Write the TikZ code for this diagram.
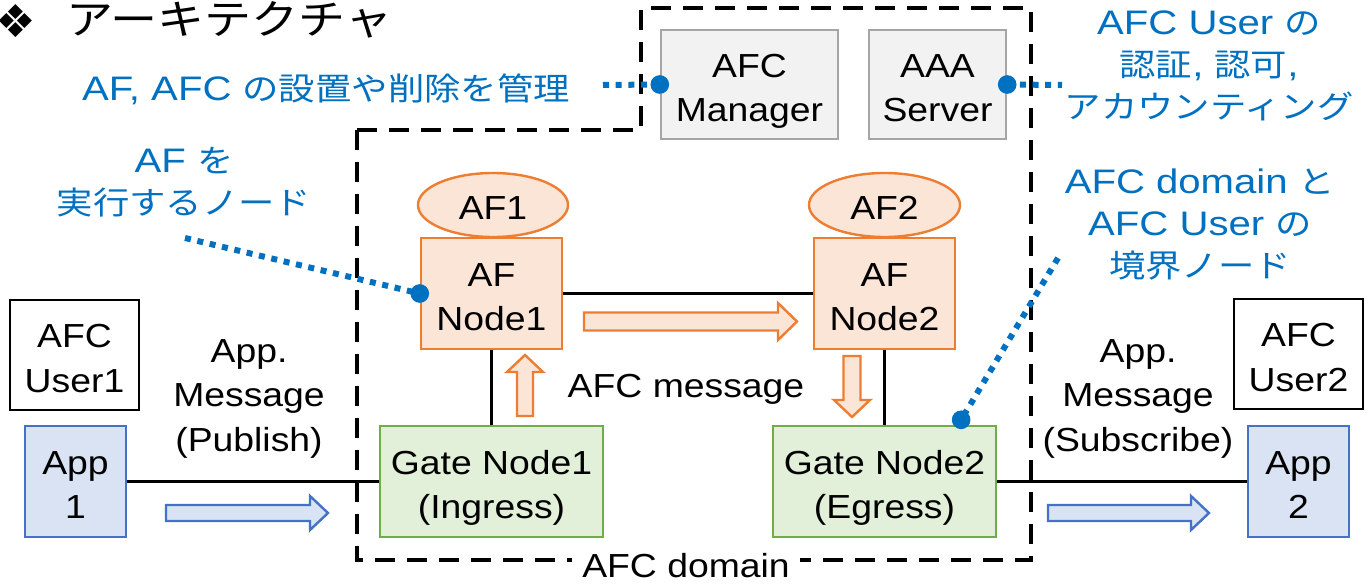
\documentclass[tikz,border=0pt]{standalone}
\usepackage{fontspec}
\setmainfont{Liberation Sans}[FakeStretch=1.12]
\newfontfamily\bnf{Liberation Sans}[FakeStretch=1.18]
\newfontfamily\jp{Noto Sans CJK JP}[FakeStretch=1.15,Scale=0.93]
\newfontfamily\dvs{DejaVu Sans}
\usetikzlibrary{calc,shapes.geometric}
\newcommand\topstrutX{\rule{0pt}{27.9pt}}
\newcommand\botstrutX{\rule[-5.5pt]{0pt}{5.5pt}}
\definecolor{txtblue}{HTML}{0070C0}
\definecolor{orB}{HTML}{ED7D31}
\definecolor{orF}{HTML}{FBE5D6}
\definecolor{grB}{HTML}{70AD47}
\definecolor{grF}{HTML}{E2F0D9}
\definecolor{blB}{HTML}{4472C4}
\definecolor{blF}{HTML}{DAE3F3}
\definecolor{gyB}{HTML}{A5A5A5}
\definecolor{gyF}{HTML}{F2F2F2}
\begin{document}
\begin{tikzpicture}[x=0.75pt,y=-0.75pt,
  sz/.style 2 args={minimum width=#1*0.75pt, minimum height=#2*0.75pt},
  mybox/.style={draw, line width=1.8pt, inner sep=0pt, align=center, font=\fontsize{25}{33.5}\selectfont},
  afbox/.style={mybox, draw=orB, fill=orF},
  afell/.style={mybox, ellipse, draw=orB, fill=orF},
  gatebox/.style={mybox, draw=grB, fill=grF},
  appbox/.style={mybox, draw=blB, fill=blF},
  srvbox/.style={mybox, draw=gyB, fill=gyF},
  userbox/.style={mybox, draw=black, fill=white, line width=2.2pt},
  mylink/.style={line width=2.3pt, draw=black},
  bluenote/.style={text=txtblue, align=center, inner sep=0pt, font=\bnf\fontsize{25.5}{31.5}\selectfont},
  blacklabel/.style={text=black, align=center, inner sep=0pt, font=\fontsize{25}{33.5}\selectfont},
  callout/.style={draw=txtblue, line width=4.5pt, dash pattern=on 4.5pt off 5pt},
  bluedot/.style={fill=txtblue},
  domline/.style={draw=black, line width=3.5pt, dash pattern=on 15pt off 9pt},
  orarrow/.style={draw=orB, fill=orF, line width=1.8pt, line join=miter},
  blarrow/.style={draw=blB, fill=blF, line width=1.8pt, line join=miter}]
\useasboundingbox (0,0) rectangle (1371,585);

% domain outline
\draw[domline] (357,130) -- (641,130) -- (641,8) -- (1031,8) -- (1031,560) -- (357,560) -- cycle;
\node[blacklabel, fill=white, inner xsep=8pt, inner ysep=2pt, anchor=base] (domlbl) at (686,577) {AFC domain};

% title
\node[inner sep=0pt, font=\dvs\fontsize{34}{34}\selectfont] (bullet) at (16,21) {❖};
\node[inner sep=0pt, anchor=west, font=\jp\fontsize{33}{33}\selectfont] (title) at (66,20) {アーキテクチャ};

% boxes
\node[srvbox, sz={177}{109}] (mgr) at (749.5,84.5) {\topstrutX AFC\\Manager\botstrutX};
\node[srvbox, sz={137}{109}] (aaa) at (937.5,84.5) {\topstrutX AAA\\Server\botstrutX};
\node[afell, sz={150}{64}] (af1) at (493,205) {\topstrutX AF1\botstrutX};
\node[afell, sz={151}{64}] (af2) at (884.5,205) {\topstrutX AF2\botstrutX};
\node[afbox, sz={141}{111}] (n1) at (491.5,293.5) {\topstrutX AF\\Node1\botstrutX};
\node[afbox, sz={141}{111}] (n2) at (884.5,293.5) {\topstrutX AF\\Node2\botstrutX};
\node[gatebox, sz={223}{111}] (g1) at (491.5,481.5) {\topstrutX Gate Node1\\(Ingress)\botstrutX};
\node[gatebox, sz={223}{111}] (g2) at (884.5,481.5) {\topstrutX Gate Node2\\(Egress)\botstrutX};
\node[userbox, sz={129}{110}] (u1) at (74.5,355) {\topstrutX AFC\\User1\botstrutX};
\node[userbox, sz={129}{110}] (u2) at (1298.5,354) {\topstrutX AFC\\User2\botstrutX};
\node[appbox, sz={101}{111}] (app1) at (75.5,481.5) {\topstrutX App\\1\botstrutX};
\node[appbox, sz={101}{111}] (app2) at (1298.5,481.5) {\topstrutX App\\2\botstrutX};

% connectors
\draw[mylink] (n1) -- (n2);
\draw[mylink] (n1) -- (g1);
\draw[mylink] (n2) -- (g2);
\draw[mylink] (app1) -- (g1);
\draw[mylink] (g2) -- (app2);

% hollow arrows
\draw[orarrow] (584,312.5) -- (778,312.5) -- (778,303) -- (797,321.5) -- (778,340) -- (778,330.5) -- (584,330.5) -- cycle;
\draw[orarrow] (517,416) -- (517,372) -- (507,372) -- (525,355) -- (543,372) -- (533,372) -- (533,416) -- cycle;
\draw[orarrow] (843.5,356) -- (860.5,356) -- (860.5,400) -- (870,400) -- (852,417) -- (834,400) -- (843.5,400) -- cycle;
\draw[blarrow] (166,505) -- (310,505) -- (310,496) -- (328,513) -- (310,530) -- (310,521) -- (166,521) -- cycle;
\draw[blarrow] (1048,505) -- (1191,505) -- (1191,496) -- (1209,513) -- (1191,530) -- (1191,521) -- (1048,521) -- cycle;

% black labels
\node[blacklabel] (pub) at (249,392) {\topstrutX App.\\Message\\(Publish)\botstrutX};
\node[blacklabel] (sub) at (1138,392) {\topstrutX App.\\Message\\(Subscribe)\botstrutX};
\node[blacklabel] (afcmsg) at (686,383) {\topstrutX AFC message\botstrutX};

% blue notes
\node[bluenote] (nmgr) at (326,86) {\topstrutX AF, AFC {\jp の設置や削除を管理}\botstrutX};
\node[bluenote] (naf) at (184,179) {\topstrutX AF {\jp を}\\{\jp 実行するノード}\botstrutX};
\node[bluenote] (naaa) at (1209,62) {\topstrutX AFC User {\jp の}\\{\jp 認証}, {\jp 認可},\\{\jp アカウンティング}\botstrutX};
\node[bluenote] (nbd) at (1200,221) {\topstrutX AFC domain {\jp と}\\AFC User {\jp の}\\{\jp 境界ノード}\botstrutX};

% callout lines
\coordinate (cmgr) at (603,85);
\coordinate (caaa) at (1062,85);
\coordinate (caf) at (185,238);
\coordinate (cbd) at (1058,258);
\coordinate (dg2) at ($(g2.north west)!0.84!(g2.north east) + (0,-5)$);
\draw[callout] (cmgr) -- (mgr.west);
\draw[callout] (aaa.east) -- (caaa);
\draw[callout] (caf) -- (n1.west);
\draw[callout] (cbd) -- (dg2);
\fill[bluedot] (mgr.west) circle[radius=7pt];
\fill[bluedot] (aaa.east) circle[radius=7pt];
\fill[bluedot] (n1.west) circle[radius=7pt];
\fill[bluedot] (dg2) circle[radius=7pt];
\end{tikzpicture}
\end{document}
